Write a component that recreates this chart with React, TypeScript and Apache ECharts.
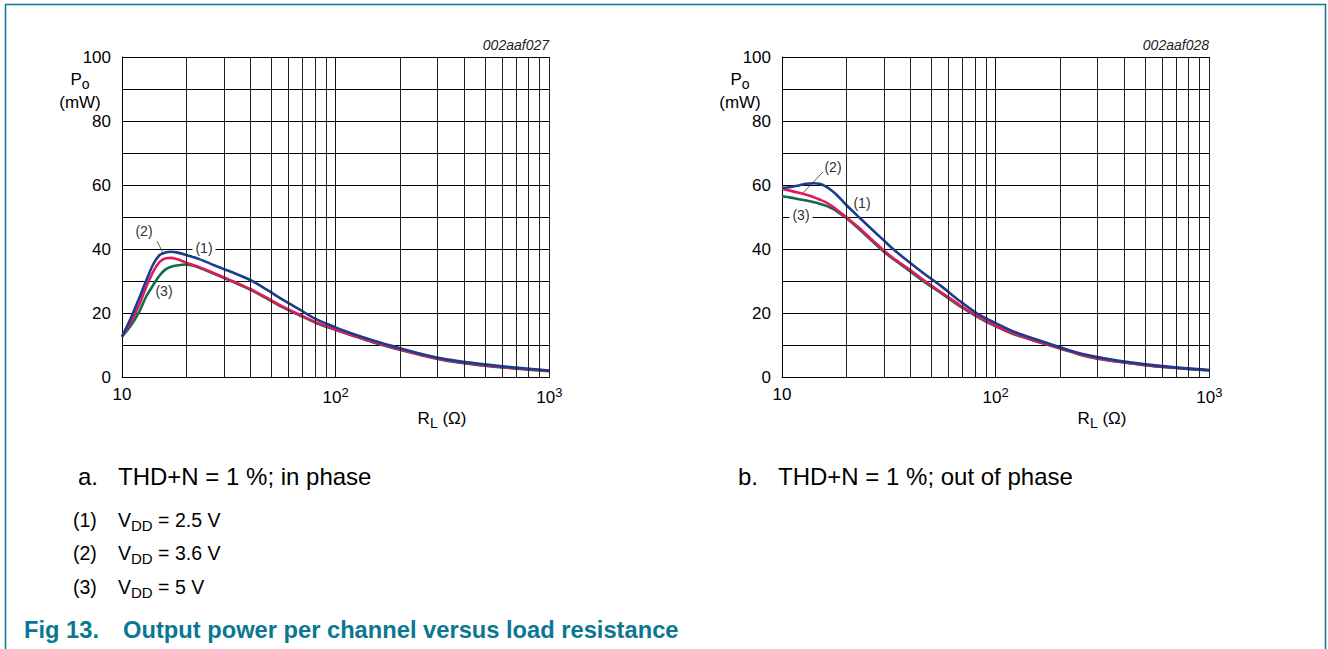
import React, { useEffect, useRef } from "react";
import * as echarts from "echarts";

// ---------- data ----------
const leftR = [10, 11, 12, 13, 14, 15, 16, 17, 18, 20, 23, 27, 33, 40, 47, 56, 68, 82, 100, 120, 150, 200, 270, 330, 470, 680, 1000];
const leftBlue = [12.7, 18.5, 24.5, 30.3, 35.3, 38.2, 39.0, 39.2, 39.0, 38.2, 36.9, 35.0, 32.7, 30.3, 27.6, 24.4, 21.1, 18.0, 15.6, 13.6, 11.5, 9.1, 6.8, 5.6, 4.2, 3.1, 2.1];
const leftRed = [12.7, 17.3, 22.5, 28.3, 33.0, 36.0, 37.2, 37.3, 36.9, 35.8, 34.4, 32.5, 30.0, 27.5, 25.0, 22.2, 19.5, 17.0, 14.9, 13.1, 11.0, 8.7, 6.5, 5.3, 3.9, 2.9, 2.0];
const leftGreen = [12.7, 16.2, 20.3, 25.3, 28.8, 31.8, 33.7, 34.5, 34.9, 35.2, 34.2, 32.3, 29.8, 27.3, 24.8, 22.0, 19.3, 16.8, 14.8, 13.0, 10.9, 8.6, 6.4, 5.2, 3.8, 2.8, 1.9];

const rightR = [10, 11, 12, 13, 14, 15, 16, 17, 18, 20, 23, 27, 30, 33, 40, 47, 56, 68, 82, 100, 120, 150, 200, 250, 300, 400, 600, 1000];
const rightBlue = [59.1, 59.4, 59.9, 60.4, 60.6, 60.4, 59.6, 58.4, 57.0, 53.8, 49.9, 45.5, 42.7, 40.1, 35.6, 32.0, 28.3, 23.8, 19.9, 16.9, 14.4, 12.1, 9.4, 7.4, 6.3, 4.9, 3.5, 2.3];
const rightRed = [58.8, 58.2, 57.6, 57.0, 56.3, 55.5, 54.7, 53.6, 52.4, 50.0, 46.6, 42.3, 39.6, 37.3, 33.4, 29.9, 26.4, 22.5, 19.1, 16.1, 13.8, 11.6, 9.1, 7.1, 5.9, 4.7, 3.3, 2.2];
const rightGreen = [56.5, 56.1, 55.6, 55.2, 54.7, 54.2, 53.6, 52.8, 51.9, 49.7, 46.2, 41.9, 39.2, 37.0, 33.0, 29.5, 26.1, 22.2, 18.9, 15.9, 13.6, 11.5, 9.0, 7.0, 5.8, 4.6, 3.2, 2.1];

const minorGridR = [20, 30, 40, 50, 60, 70, 80, 90, 200, 300, 400, 500, 600, 700, 800, 900, 1000];
const chartIds = ["002aaf027", "002aaf028"];
const captions = ["THD+N = 1 %; in phase", "THD+N = 1 %; out of phase"];
const captionLetters = ["a.", "b."];
const legendNums = ["(1)", "(2)", "(3)"];
const legendVdd = ["2.5 V", "3.6 V", "5 V"];
const titleFig = "Fig 13.";
const titleText = "Output power per channel versus load resistance";

// ---------- styles ----------
const FONT = "'Liberation Sans', Arial, Helvetica, sans-serif";
const BLUE = "#1c3d8f";
const RED = "#e5195a";
const GREEN = "#126b4c";
const TEAL = "#0b7792";
const GRID_LEFT = [122, 782];
const GRID_TOP = 57;
const GRID_W = 427.3;
const GRID_H = 320.3;

const pairs = (xs: number[], ys: number[]) => xs.map((x, i) => [x, ys[i]]);

function text(x: number, y: number, t: string, o: any = {}) {
  return {
    type: "text",
    x,
    y,
    z: 100,
    silent: true,
    style: {
      text: t,
      fill: o.fill || "#000",
      fontSize: o.fontSize || 17,
      fontFamily: FONT,
      fontWeight: o.fontWeight || "normal",
      fontStyle: o.fontStyle || "normal",
      textAlign: o.align || "left",
      align: o.align || "left",
      textVerticalAlign: "middle",
      verticalAlign: "middle",
      backgroundColor: o.bg,
      padding: o.padding,
      rich: o.rich,
    },
  };
}

function leader(x1: number, y1: number, x2: number, y2: number) {
  return {
    type: "line",
    z: 100,
    silent: true,
    shape: { x1, y1, x2, y2 },
    style: { stroke: "#333", lineWidth: 0.8 },
  };
}

const sub = (fs: number, pad: number) => ({
  s: { fontSize: fs, fontFamily: FONT, fill: "#000", color: "#000", verticalAlign: "bottom", padding: [pad, 0, 0, 0] },
});

export default function App() {
  const ref = useRef<HTMLDivElement>(null);

  useEffect(() => {
    if (!ref.current) return;
    const chart = echarts.init(ref.current, null, { renderer: "svg" });

    const grids = GRID_LEFT.map((l) => ({ left: l, top: GRID_TOP, width: GRID_W, height: GRID_H, containLabel: false }));

    const xAxes = [0, 1].map((i) => ({
      type: "log",
      logBase: 10,
      gridIndex: i,
      min: 10,
      max: 1000,
      axisLine: { show: true, lineStyle: { color: "#000", width: 1 } },
      axisTick: { show: false },
      splitLine: { show: true, lineStyle: { color: "#111", width: 1 } },
      axisLabel: {
        show: true,
        margin: 9,
        color: "#000",
        fontSize: 17,
        fontFamily: FONT,
        showMinLabel: true,
        showMaxLabel: true,
        formatter: (v: number) => {
          const e = Math.round(Math.log10(v));
          return e === 1 ? "10" : "10{sup|" + e + "}";
        },
        rich: {
          sup: { fontSize: 13, fontFamily: FONT, color: "#000", verticalAlign: "top", padding: [0, 0, 10, 0] },
        },
      },
    }));

    const yAxes = [0, 1].map((i) => ({
      type: "value",
      gridIndex: i,
      min: 0,
      max: 100,
      interval: 10,
      axisLine: { show: true, lineStyle: { color: "#000", width: 1 } },
      axisTick: { show: false },
      splitLine: { show: true, lineStyle: { color: "#000", width: 1 } },
      axisLabel: {
        margin: 11,
        color: "#000",
        fontSize: 17,
        fontFamily: FONT,
        formatter: (v: number) => (v % 20 === 0 ? String(v) : ""),
      },
    }));

    const mk = (name: string, idx: number, xs: number[], ys: number[], color: string) => ({
      name,
      type: "line",
      xAxisIndex: idx,
      yAxisIndex: idx,
      data: pairs(xs, ys),
      showSymbol: false,
      symbol: "none",
      smooth: 0.3,
      z: 3,
      lineStyle: { color, width: 2.6 },
      silent: true,
    });

    const gridSeries = (idx: number) => ({
      type: "line",
      xAxisIndex: idx,
      yAxisIndex: idx,
      data: [],
      z: 1,
      silent: true,
      markLine: {
        silent: true,
        symbol: ["none", "none"],
        animation: false,
        label: { show: false },
        lineStyle: { color: "#222", width: 1, type: "solid" },
        data: minorGridR.map((v) => ({ xAxis: v })),
      },
    });

    const graphic: any[] = [
      {
        type: "polyline",
        z: 100,
        silent: true,
        shape: { points: [[5.5, 700], [5.5, 4.5], [1325.5, 4.5], [1325.5, 700]] },
        style: { stroke: TEAL, lineWidth: 1.5, fill: "none" },
      },
    ];

    [0, 1].forEach((i) => {
      const dx = i * 660;
      graphic.push(text(549 + dx, 45, chartIds[i], { align: "right", fontSize: 14, fontStyle: "italic", fill: "#222" }));
      graphic.push(text(80 + dx, 79, "P{s|o}", { align: "center", rich: sub(14, 10) }));
      graphic.push(text(80 + dx, 102, "(mW)", { align: "center" }));
      graphic.push(text(442 + dx, 418, "R{s|L} (Ω)", { align: "center", rich: sub(14, 10) }));
      graphic.push(text(78 + dx, 476, captionLetters[i], { fontSize: 24 }));
      graphic.push(text(118 + dx, 476, captions[i], { fontSize: 24 }));
    });

    // annotations, left chart
    graphic.push(text(144, 231, "(2)", { align: "center", fontSize: 14, fill: "#333" }));
    graphic.push(leader(157, 241, 163, 253));
    graphic.push(text(204, 248, "(1)", { align: "center", fontSize: 14, fill: "#333", bg: "#fff", padding: [1, 3] }));
    graphic.push(text(164, 291, "(3)", { align: "center", fontSize: 14, fill: "#333" }));
    // annotations, right chart
    graphic.push(text(833, 167, "(2)", { align: "center", fontSize: 14, fill: "#333" }));
    graphic.push(leader(823, 172, 803, 193));
    graphic.push(text(862, 203, "(1)", { align: "center", fontSize: 14, fill: "#333" }));
    graphic.push(text(801, 215, "(3)", { align: "center", fontSize: 14, fill: "#333", bg: "#fff", padding: [1, 3] }));

    // legend lines
    [520, 553, 587].forEach((y, k) => {
      graphic.push(text(73, y, legendNums[k], { fontSize: 19.5 }));
      graphic.push(text(118, y, "V{s|DD} = " + legendVdd[k], { fontSize: 19.5, rich: sub(15, 10) }));
    });

    graphic.push(text(24, 630, titleFig, { fontSize: 23.7, fontWeight: "bold", fill: TEAL }));
    graphic.push(text(123, 630, titleText, { fontSize: 23.7, fontWeight: "bold", fill: TEAL }));

    chart.setOption({
      animation: false,
      backgroundColor: "#fff",
      grid: grids,
      xAxis: xAxes,
      yAxis: yAxes,
      series: [
        gridSeries(0),
        gridSeries(1),
        mk("(3) left", 0, leftR, leftGreen, GREEN),
        mk("(2) left", 0, leftR, leftRed, RED),
        mk("(1) left", 0, leftR, leftBlue, BLUE),
        mk("(3) right", 1, rightR, rightGreen, GREEN),
        mk("(2) right", 1, rightR, rightRed, RED),
        mk("(1) right", 1, rightR, rightBlue, BLUE),
      ],
      graphic,
    });

    return () => chart.dispose();
  }, []);

  return (
    <div
      ref={ref}
      style={{ position: "absolute", left: 0, top: 0, width: 1328, height: 649, background: "#fff" }}
    />
  );
}
